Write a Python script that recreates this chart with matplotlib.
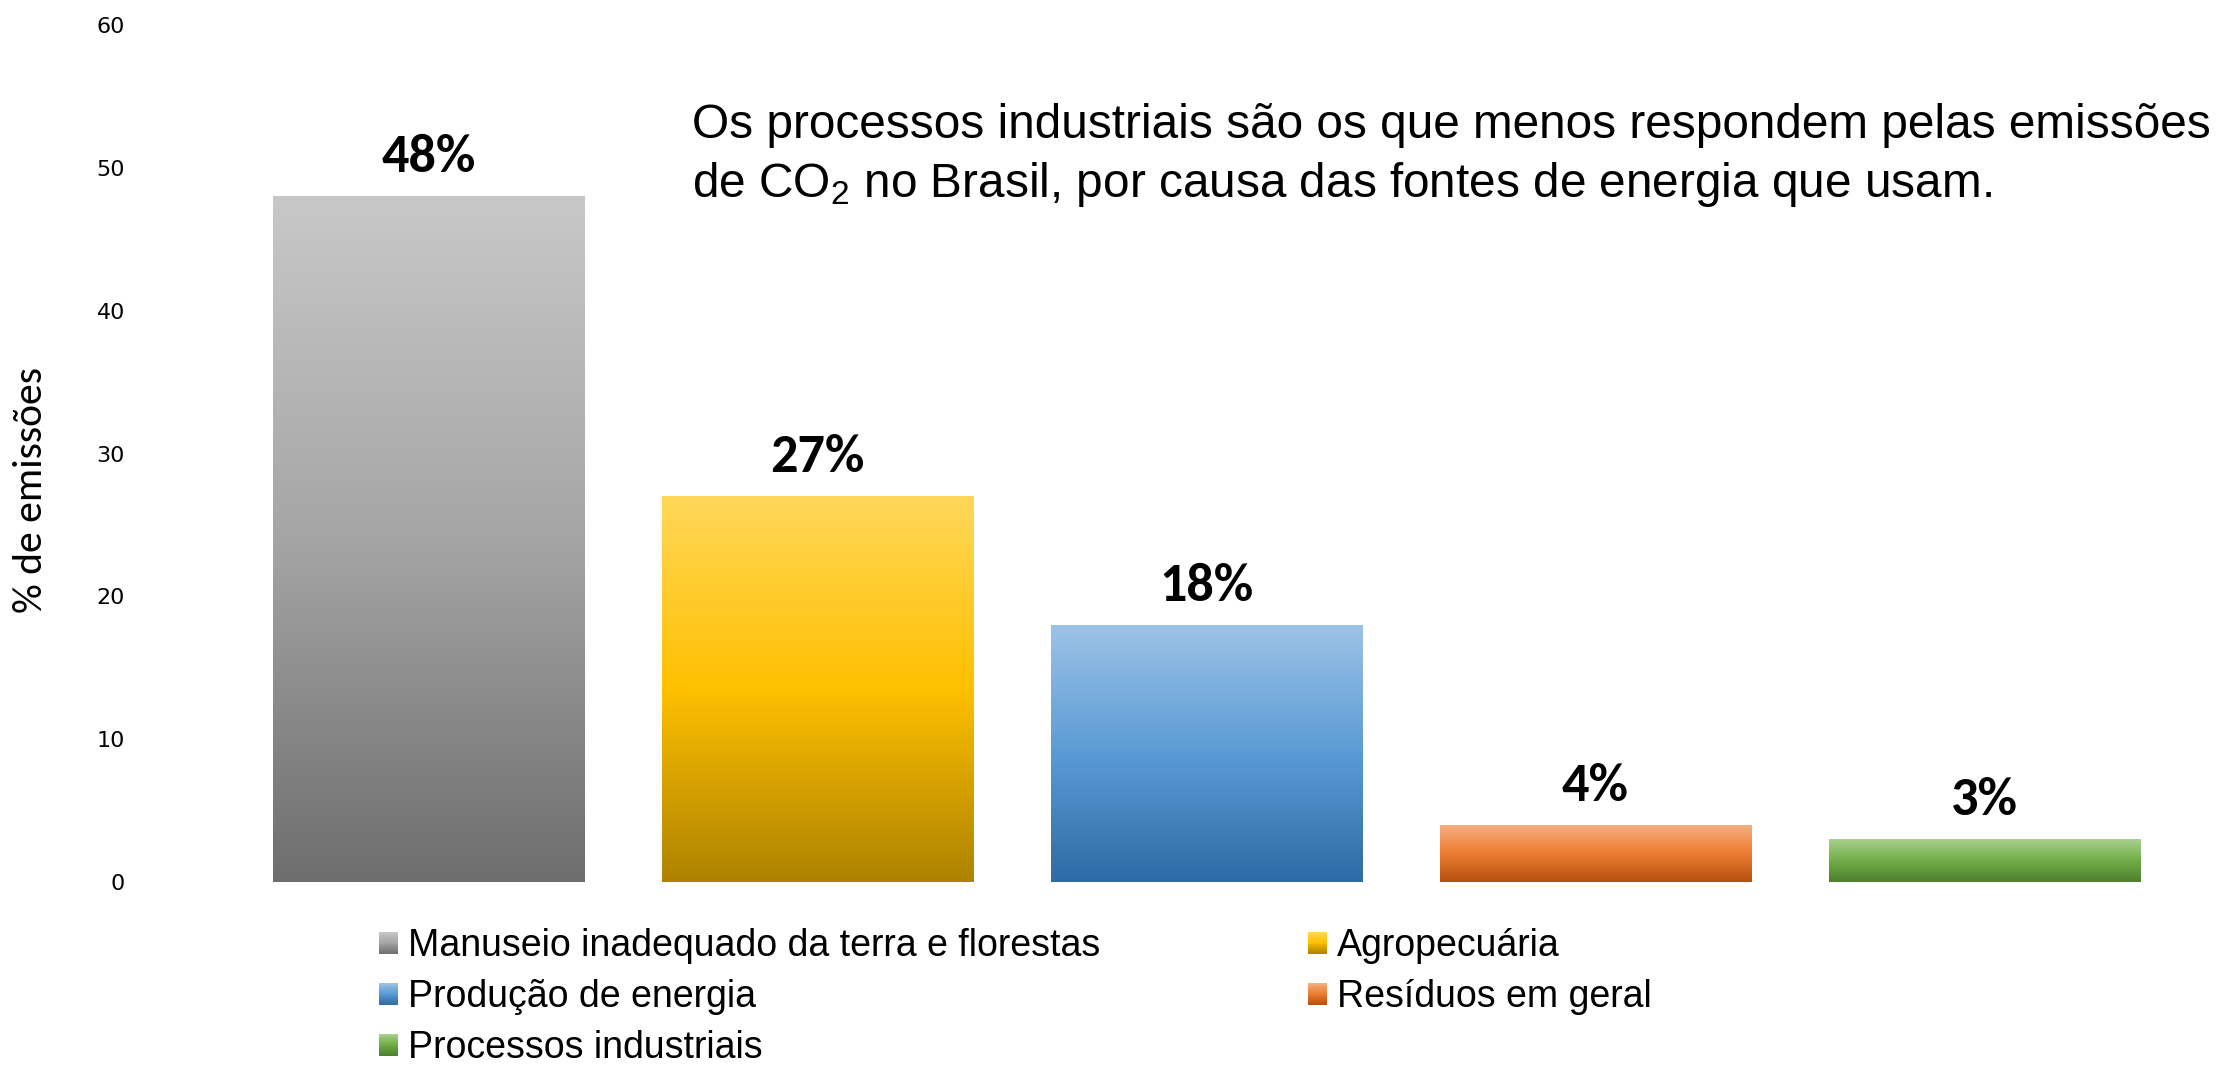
import numpy as np
import matplotlib
matplotlib.use("Agg")
import matplotlib.pyplot as plt
from matplotlib.colors import LinearSegmentedColormap
from matplotlib.patches import Rectangle
from matplotlib.legend_handler import HandlerBase

categorias = ['Manuseio inadequado da terra e florestas', 'Agropecuária',
              'Produção de energia', 'Resíduos em geral', 'Processos industriais']
valores = [48, 27, 18, 4, 3]
rotulos = ['48%', '27%', '18%', '4%', '3%']
# gradientes (base escura, meio, topo claro)
cores = [['#6E6E6E', '#A5A5A5', '#C8C8C8'],
         ['#AD8200', '#FFC000', '#FFD75A'],
         ['#2E6AA5', '#5B9BD5', '#9DC3E6'],
         ['#B4500F', '#ED7D31', '#F4B183'],
         ['#4E7F2E', '#70AD47', '#A9D18E']]

ARIAL = ['Liberation Sans', 'DejaVu Sans']
CALIBRI = ['Carlito', 'Liberation Sans', 'DejaVu Sans']
plt.rcParams['mathtext.fontset'] = 'custom'
plt.rcParams['mathtext.rm'] = 'Liberation Sans'

cmaps = [LinearSegmentedColormap.from_list('g%d' % i, c) for i, c in enumerate(cores)]

fig = plt.figure(figsize=(22.28, 10.67), dpi=100)
ax = fig.add_axes([234/2228, 1-882/1067, (2179-234)/2228, (882-25)/1067])

x = np.arange(len(valores))
barras = ax.bar(x, valores, width=0.8)
grad = np.linspace(0, 1, 256).reshape(-1, 1)
for b, cm in zip(barras, cmaps):
    x0, y0 = b.get_x(), b.get_y()
    w, h = b.get_width(), b.get_height()
    b.set_facecolor('none')
    b.set_edgecolor('none')
    im = ax.imshow(grad, extent=[x0, x0+w, y0, y0+h], origin='lower',
                   cmap=cm, aspect='auto', interpolation='bilinear')
    im.set_clip_path(b)

for xi, v, r in zip(x, valores, rotulos):
    ax.text(xi, v + 1.7, r, ha='center', va='baseline', fontsize=39,
            fontweight='bold', family=CALIBRI)

ax.set_xlim(-0.5, 4.5)
ax.set_ylim(0, 60)
ax.set_yticks(range(0, 61, 10))
ax.set_xticks([])
ax.tick_params(axis='y', length=0, pad=109/1.389, labelsize=16)
for s in ax.spines.values():
    s.set_visible(False)

fig.text(31/2228, 1-490/1067, '% de emissões', rotation=90, ha='center',
         va='center', fontsize=30, family=CALIBRI)

fig.text(692/2228, 1-138/1067, 'Os processos industriais são os que menos respondem pelas emissões',
         ha='left', va='baseline', fontsize=34.4, family=ARIAL)
fig.text(692/2228, 1-197/1067, 'de CO$_2$ no Brasil, por causa das fontes de energia que usam.',
         ha='left', va='baseline', fontsize=34.4, family=ARIAL)


class Degrade(HandlerBase):
    def create_artists(self, legend, orig_handle, xdescent, ydescent,
                       width, height, fontsize, trans):
        cm = orig_handle.cmap_
        n = 24
        arts = []
        for i in range(n):
            arts.append(Rectangle((-xdescent, -ydescent + height*i/n), width,
                                  height/n*1.05, facecolor=cm((i+0.5)/n),
                                  edgecolor='none', transform=trans))
        return arts


handles = []
for cm in cmaps:
    r = Rectangle((0, 0), 1, 1)
    r.cmap_ = cm
    handles.append(r)

ordem = [0, 2, 4, 1, 3]
leg = fig.legend([handles[i] for i in ordem], [categorias[i] for i in ordem],
                 handler_map={Rectangle: Degrade()}, ncol=2, frameon=False,
                 loc='upper left', bbox_to_anchor=(379/2228, 1-928/1067),
                 bbox_transform=fig.transFigure, borderpad=0, borderaxespad=0,
                 prop={'family': ARIAL, 'size': 27}, handlelength=0.51,
                 handleheight=0.51, handletextpad=0.27, labelspacing=0.4,
                 columnspacing=5.52)

fig.savefig('out.png', dpi=100)
